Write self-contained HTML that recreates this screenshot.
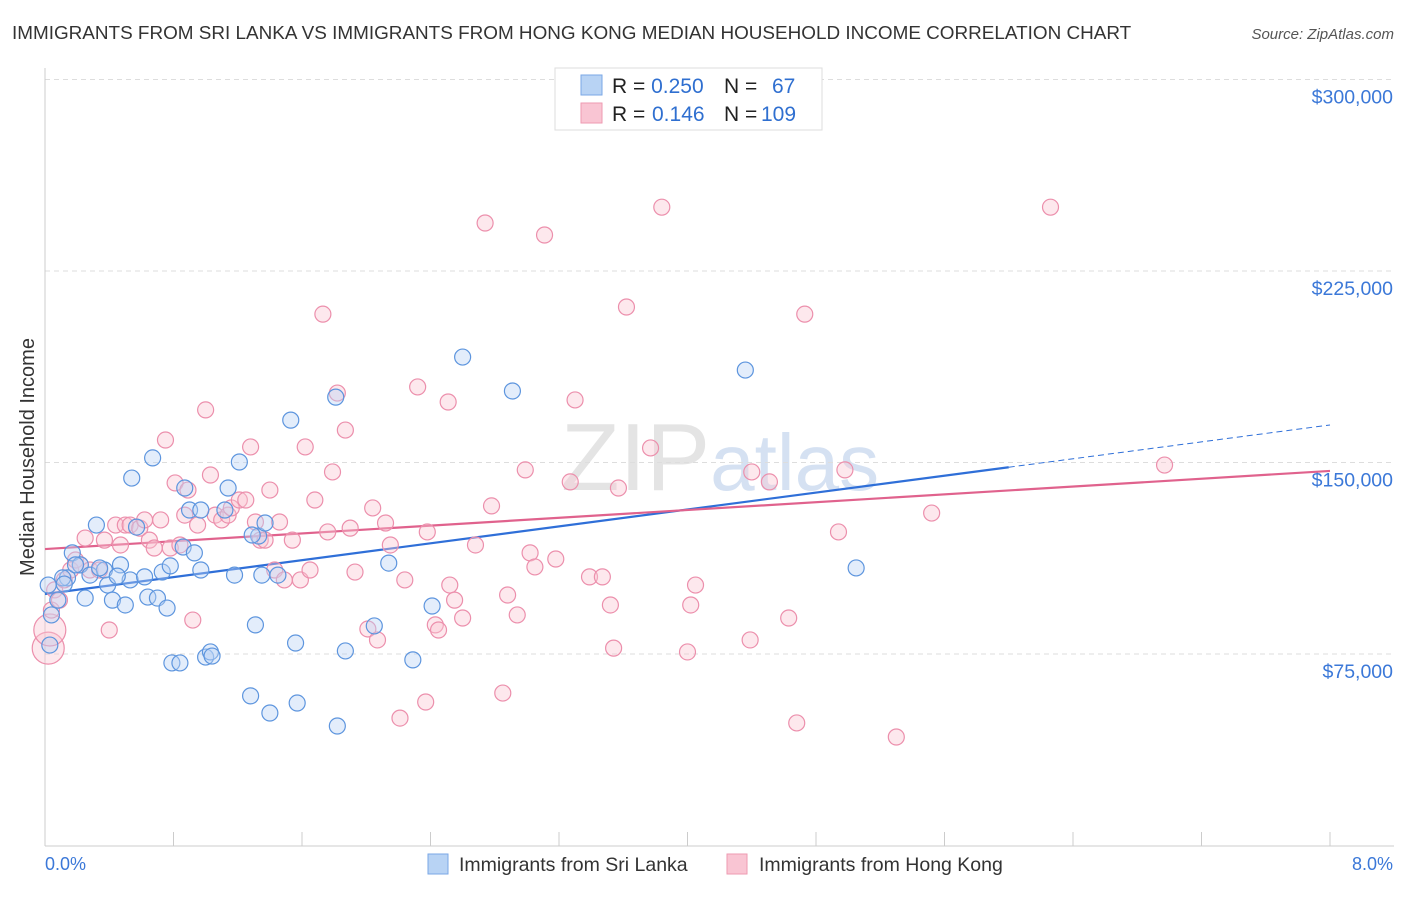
<!DOCTYPE html>
<html><head><meta charset="utf-8"><style>
body{margin:0;background:#fff;font-family:"Liberation Sans",sans-serif;}
svg text{font-family:"Liberation Sans",sans-serif;}
</style></head><body>
<svg id="chart" width="1406" height="892" viewBox="0 0 1406 892">
<text x="12" y="39" font-size="18.9" fill="#333">IMMIGRANTS FROM SRI LANKA VS IMMIGRANTS FROM HONG KONG MEDIAN HOUSEHOLD INCOME CORRELATION CHART</text>
<text x="1394" y="39" font-size="15" fill="#555" font-style="italic" text-anchor="end">Source: ZipAtlas.com</text>
<text x="720" y="490" font-size="96" fill="#e4e4e4" text-anchor="middle" font-family="Liberation Serif">ZIP<tspan fill="#d5e1f2" font-family="Liberation Sans" font-size="80">atlas</tspan></text>
<text transform="translate(34,457) rotate(-90)" font-size="20" fill="#333" text-anchor="middle">Median Household Income</text>
<g id="grid"></g><g id="xticks"></g><g id="lines"></g><g id="pts"></g>
<g>
<rect x="555" y="68" width="267" height="62" fill="#fff" stroke="#ddd"/>
<rect x="581" y="75" width="21" height="20" fill="#b8d3f4" stroke="#7aa7e6"/>
<rect x="581" y="103" width="21" height="20" fill="#f9c5d3" stroke="#ee9ab2"/>
<text x="612" y="93" font-size="21" fill="#222">R = <tspan fill="#2f6fd0">0.250</tspan><tspan x="724">N =</tspan><tspan x="772" fill="#2f6fd0">67</tspan></text>
<text x="612" y="121" font-size="21" fill="#222">R = <tspan x="652" fill="#2f6fd0">0.146</tspan><tspan x="724">N =</tspan><tspan x="761" fill="#2f6fd0">109</tspan></text>
</g>
<text x="45" y="870" font-size="18" fill="#3b78d8">0.0%</text>
<text x="1393" y="870" font-size="18" fill="#3b78d8" text-anchor="end">8.0%</text>
<g>
<rect x="428" y="854" width="20" height="20" fill="#b8d3f4" stroke="#7aa7e6"/>
<text x="459" y="871" font-size="19.5" fill="#333">Immigrants from Sri Lanka</text>
<rect x="727" y="854" width="20" height="20" fill="#f9c5d3" stroke="#ee9ab2"/>
<text x="759" y="871" font-size="19.5" fill="#333">Immigrants from Hong Kong</text>
</g>
</svg>
<script>
const yTicks=[75000,150000,225000,300000];
const yTickLabels=["$75,000","$150,000","$225,000","$300,000"];
const blueX=[0.04,0.08,0.14,0.17,0.22,0.25,0.28,0.32,0.37,0.39,0.42,0.47,0.50,0.53,0.54,0.57,0.62,0.64,0.67,0.70,0.73,0.76,0.78,0.79,0.84,0.86,0.87,0.90,0.93,0.97,1.00,1.03,1.04,1.14,1.18,1.21,1.28,1.31,1.33,1.35,1.37,1.40,1.45,1.53,1.56,1.57,1.81,1.82,1.87,2.05,2.14,2.29,2.41,2.60,2.91,4.36,5.05,0.34,0.45,0.02,0.03,0.11,0.12,0.19,0.97,1.12,1.29];
const blueY=[90.3,96.1,104.8,114.6,109.9,96.9,105.9,125.5,107.9,102.0,96.1,109.9,94.2,104.0,143.9,124.7,105.2,97.3,151.8,96.9,107.1,93.0,109.5,71.5,71.5,116.9,140.0,131.4,114.6,107.9,73.8,75.8,74.2,140.0,105.9,150.2,58.6,86.4,121.2,105.9,126.3,51.9,105.9,166.6,79.3,55.8,175.6,46.8,76.2,86.0,110.6,72.7,93.8,191.3,178.0,186.2,108.7,108.7,105.5,102.0,78.5,104.8,102.4,109.9,131.4,131.4,121.6];
const pinkX=[0.02,0.03,0.04,0.06,0.09,0.12,0.16,0.19,0.22,0.25,0.28,0.34,0.37,0.40,0.44,0.47,0.50,0.53,0.59,0.62,0.65,0.68,0.72,0.75,0.78,0.81,0.84,0.87,0.89,0.92,0.95,1.00,1.03,1.06,1.10,1.14,1.16,1.21,1.25,1.28,1.31,1.34,1.37,1.40,1.43,1.46,1.49,1.54,1.59,1.62,1.65,1.68,1.73,1.76,1.79,1.82,1.87,1.90,1.93,2.01,2.04,2.07,2.12,2.15,2.21,2.24,2.32,2.37,2.38,2.43,2.45,2.51,2.52,2.55,2.60,2.74,2.78,2.68,2.85,2.88,2.94,2.99,3.02,3.05,3.11,3.18,3.27,3.30,3.39,3.47,3.52,3.54,3.57,3.62,3.77,3.84,4.00,4.02,4.05,4.39,4.40,4.51,4.63,4.68,4.73,4.94,4.98,5.30,5.52,6.26,6.97];
const pinkY=[77.3,84.4,92.2,100.1,96.1,104.0,107.9,111.8,109.9,120.4,107.9,107.9,119.6,84.4,125.5,117.7,125.5,125.5,124.3,127.5,119.6,116.5,127.5,158.8,116.5,142.0,117.7,129.4,139.2,88.3,125.5,170.6,145.1,129.4,127.5,129.4,132.2,135.3,135.3,156.1,126.7,119.6,119.6,139.2,107.9,126.7,104.0,119.6,104.0,156.1,107.9,135.3,208.1,122.8,146.3,177.2,162.7,124.3,107.1,84.8,132.2,80.5,126.3,117.7,49.9,104.0,179.6,56.2,122.8,86.4,84.4,173.7,102.0,96.1,89.1,243.8,133.0,117.7,59.7,98.1,90.3,147.1,114.6,109.1,239.1,112.2,142.4,174.5,105.2,105.2,94.2,77.3,140.0,210.9,155.7,250.0,75.8,94.2,102.0,80.5,146.3,142.4,89.1,48.0,208.1,122.8,147.1,42.5,130.2,250.0,149.0];
const blueTrend=[98.5,164.7];
const pinkTrend=[116.1,146.7];
const NS="http://www.w3.org/2000/svg";
const X=p=>45+p/8*1285;
const Y=v=>654-(v-75000)*191.5/75000;
const Yk=k=>Y(k*1000);
function mk(t,a,parent){const e=document.createElementNS(NS,t);for(const k in a)e.setAttribute(k,a[k]);document.getElementById(parent).appendChild(e);return e;}
yTicks.forEach((v,i)=>{
 const l=mk('line',{x1:45,x2:1394,y1:Y(v),y2:Y(v),stroke:'#ddd','stroke-dasharray':'5,4'},'grid');
 
 
 const t=mk('text',{x:1393,y:Y(v)+24,'font-size':19.5,fill:'#3b78d8','text-anchor':'end'},'grid');
 t.textContent=yTickLabels[i];
 
 
});
const ax=mk('line',{x1:45,x2:45,y1:68,y2:846,stroke:'#ccc'},'grid');


const bx=mk('line',{x1:45,x2:1394,y1:846,y2:846,stroke:'#ccc'},'grid');


for(let i=0;i<=10;i++){const t=mk('line',{x1:X(i*0.8),x2:X(i*0.8),y1:832,y2:846,stroke:'#ccc'},'xticks');
 
 }
function pts(xs,ys,fill,stroke,name){xs.forEach((x,i)=>{const r=(name==='point-hong-kong'&&i<2)?16:8;
 const c=mk('circle',{cx:X(x),cy:Yk(ys[i]),r:r,fill:fill,'fill-opacity':0.4,stroke:stroke,'stroke-width':1.2},'pts');
 
 });}
pts(pinkX,pinkY,'#f9c5d3','#ec8fac','point-hong-kong');
pts(blueX,blueY,'#b8d3f4','#5d95de','point-sri-lanka');
const bs=(blueTrend[1]-blueTrend[0])/8;
const l1=mk('line',{x1:X(0),y1:Yk(blueTrend[0]),x2:X(6),y2:Yk(blueTrend[0]+bs*6),stroke:'#2f6fd8','stroke-width':2.2},'lines');


const l2=mk('line',{x1:X(6),y1:Yk(blueTrend[0]+bs*6),x2:X(8),y2:Yk(blueTrend[1]),stroke:'#2f6fd8','stroke-width':1,'stroke-dasharray':'6,4'},'lines');


const l3=mk('line',{x1:X(0),y1:Yk(pinkTrend[0]),x2:X(8),y2:Yk(pinkTrend[1]),stroke:'#e0628d','stroke-width':2.2},'lines');


</script>
</body></html>
